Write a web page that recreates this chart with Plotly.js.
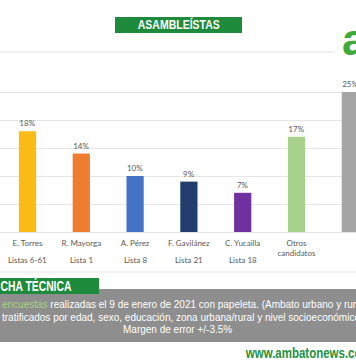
<!DOCTYPE html>
<html><head><meta charset="utf-8">
<script src="https://cdn.plot.ly/plotly-3.0.1.min.js"></script>
<style>html,body{margin:0;padding:0;overflow:hidden;background:#fff}</style>
</head><body><div id="chart" style="width:356px;height:364px"></div>
<script>
const names = ["E. Torres","R. Mayorga","A. Pérez","F. Gavilánez","C. Yucailla","Otros<br>candidatos","Nulos/Blancos"];
const lists = ["Listas 6-61","Lista 1","Lista 8","Lista 21","Lista 18","",""];
const values = [18,14,10,9,7,17,25];
const labels = ["18%","14%","10%","9%","7%","17%","25%"];
const colors = ["#FBBA16","#EE7D31","#4472C4","#223E6E","#7030A0","#A9D18E","#A5A5A5"];

const W=356, T=64, B=232;
const px = x => x/W;
const py = y => (B-y)/(B-T);
const idx = names.map((_,i)=>i);

const trace = {
  type:'bar', x: idx, y: values, width: 0.32,
  marker:{color: colors},
  text: labels, textposition:'outside', cliponaxis:false,
  textfont:{family:'Lato, sans-serif', size:8, color:'#595959'},
  hoverinfo:'none'
};

const annotations = [];
lists.forEach((l,i)=>{ if(l) annotations.push({xref:'x', yref:'paper', x:i, y:py(260), text:l, showarrow:false,
  font:{family:'Lato, sans-serif', size:8, color:'#595959'}, xanchor:'center', yanchor:'middle'}); });
annotations.push({xref:'paper', yref:'paper', x:px(179), y:py(25), text:'<b>ASAMBLEÍSTAS</b>', showarrow:false,
  font:{family:'Liberation Sans, sans-serif', size:13, color:'#ffffff'}, xanchor:'center', yanchor:'middle'});
annotations.push({xref:'paper', yref:'paper', x:px(340), y:py(39), text:'<b>a</b>', showarrow:false,
  font:{family:'Liberation Sans, sans-serif', size:44, color:'#3DAA3B'}, xanchor:'left', yanchor:'middle'});
annotations.push({xref:'paper', yref:'paper', x:px(36), y:py(286), text:'<b>CHA TÉCNICA</b>', showarrow:false,
  font:{family:'Liberation Sans, sans-serif', size:14, color:'#ffffff'}, xanchor:'center', yanchor:'middle'});
annotations.push({xref:'paper', yref:'paper', x:px(0), y:py(304), text:'<span style="color:#A6D27E">encuestas</span> realizadas el 9 de enero de 2021 con papeleta. (Ambato urbano y rural)', showarrow:false,
  font:{family:'Liberation Sans, sans-serif', size:10, color:'#ffffff'}, xanchor:'left', yanchor:'middle'});
annotations.push({xref:'paper', yref:'paper', x:px(0), y:py(317), text:'tratificados por edad, sexo, educación, zona urbana/rural y nivel socioeconómico.', showarrow:false,
  font:{family:'Liberation Sans, sans-serif', size:10, color:'#ffffff'}, xanchor:'left', yanchor:'middle'});
annotations.push({xref:'paper', yref:'paper', x:px(121), y:py(329), text:'Margen de error +/-3.5%', showarrow:false,
  font:{family:'Liberation Sans, sans-serif', size:10, color:'#ffffff'}, xanchor:'left', yanchor:'middle'});
annotations.push({xref:'paper', yref:'paper', x:px(308), y:py(353), text:'<b>www.ambatonews.com</b>', showarrow:false,
  font:{family:'Liberation Sans, sans-serif', size:14, color:'#23913F'}, xanchor:'center', yanchor:'middle'});

const shapes = [
  {type:'line', xref:'paper', yref:'paper', x0:0, x1:px(335), y0:py(52), y1:py(52), line:{color:'#E3E3E3', width:1}},
  {type:'rect', xref:'paper', yref:'paper', x0:px(115), x1:px(242), y0:py(17), y1:py(33), fillcolor:'#1E8B3C', line:{width:0}},
  {type:'line', xref:'paper', yref:'paper', x0:0, x1:1, y0:py(272), y1:py(272), line:{color:'#E6E6E6', width:1}},
  {type:'rect', xref:'paper', yref:'paper', x0:0, x1:1, y0:py(289), y1:py(342), fillcolor:'#8E8E8E', line:{width:0}},
  {type:'rect', xref:'paper', yref:'paper', x0:0, x1:px(99), y0:py(278), y1:py(294), fillcolor:'#1E8B3C', line:{width:0}}
];

const layout = {
  width:356, height:364, margin:{l:0,r:0,t:64,b:132},
  paper_bgcolor:'#ffffff', plot_bgcolor:'#ffffff', showlegend:false,
  xaxis:{range:[-0.511, 6.106], tickvals: idx, ticktext: names, showgrid:false, zeroline:false, showline:false,
    ticks:'', ticklabelstandoff:5, tickangle:0, tickfont:{family:'Lato, sans-serif', size:8, color:'#595959'}, fixedrange:true},
  yaxis:{range:[0,30], dtick:5, showticklabels:false, showgrid:true, gridcolor:'#E6E6E6', gridwidth:1,
    zeroline:true, zerolinecolor:'#E6E6E6', showline:false, ticks:'', fixedrange:true},
  shapes: shapes, annotations: annotations, bargap:0.68
};
Plotly.newPlot('chart',[trace],layout,{displayModeBar:false, staticPlot:true}).then(gd=>{
  gd.querySelectorAll('.annotation-text').forEach(t=>{
    const s = t.textContent;
    let L = null;
    if (s.indexOf('ASAMBLE')===0) L = 82;
    if (s.indexOf('CHA T')===0) L = 71;
    if (s.indexOf('www.')===0) L = 126;
    if (L) { t.setAttribute('textLength', String(L)); t.setAttribute('lengthAdjust','spacingAndGlyphs'); }
  });
});
</script></body></html>
